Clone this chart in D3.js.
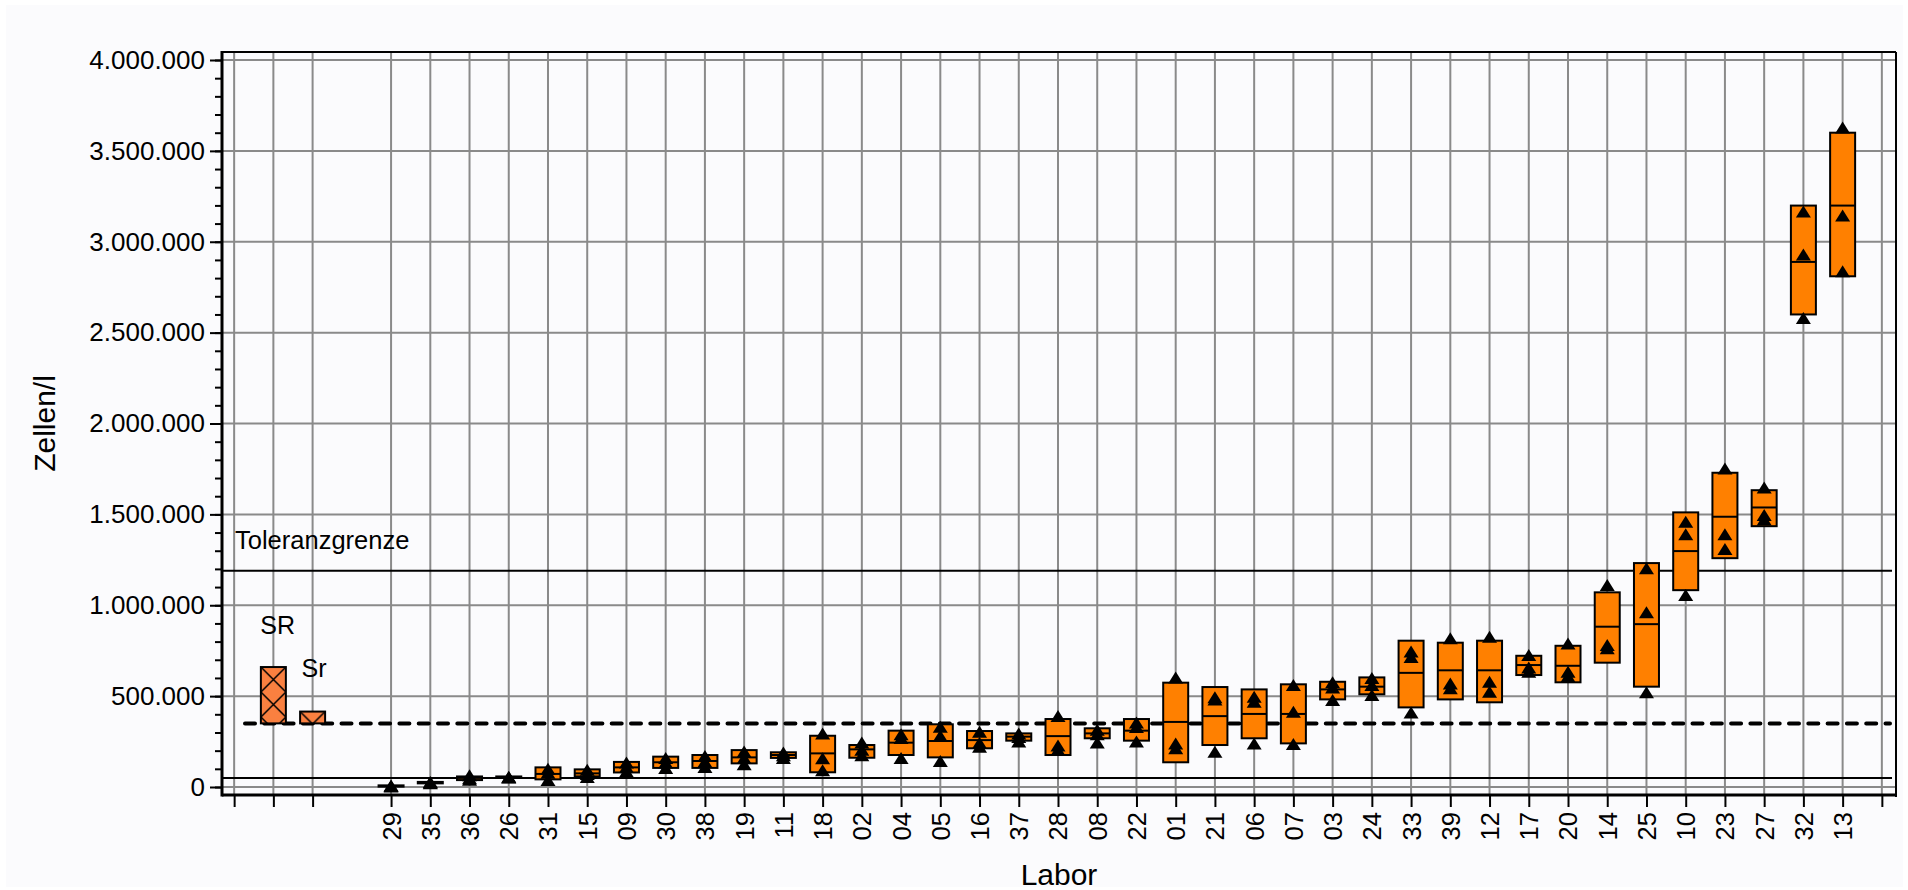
<!DOCTYPE html>
<html><head><meta charset="utf-8">
<script src="https://cdn.jsdelivr.net/npm/d3@7"></script>
<style>
body{margin:0;background:#fff;}
svg text{font-family:"Liberation Sans",Arial,sans-serif;fill:#000;}
</style></head><body>
<svg id="c" width="1908" height="890"></svg>
<script>
// ---------------- data ----------------
const labs = ["29","35","36","26","31","15","09","30","38","19","11","18","02","04","05","16","37","28","08","22","01","21","06","07","03","24","33","39","12","17","20","14","25","10","23","27","32","13"];
const values = [
  [3000,5000,8000],[20000,25000,28000],[40000,48000,65000],[52000,54000,56000],
  [38000,78000,100000],[55000,72000,95000],[85000,110000,135000],[105000,135000,160000],
  [110000,140000,170000],[125000,160000,195000],[160000,175000,190000],[92000,158000,295000],
  [175000,205000,245000],[160000,270000,290000],[143000,282000,332000],[222000,244000,304000],
  [250000,275000,295000],[205000,228000,390000],[245000,290000,315000],[250000,330000,355000],
  [213000,240000,603000],[194000,482000,494000],[240000,469000,497000],[236000,414000,561000],
  [478000,548000,577000],[506000,561000,600000],[410000,715000,745000],[543000,570000,818000],
  [524000,579000,827000],[634000,658000,726000],[610000,634000,790000],[763000,781000,1111000],
  [521000,962000,1203000],[1056000,1390000,1459000],[1309000,1391000,1753000],[1472000,1496000,1648000],
  [2580000,2930000,3166000],[2838000,3144000,3628000]
];
const boxLow  = [2000,20000,38000,50000,42000,58000,80000,105000,105000,130000,160000,81000,161000,176000,163000,213000,255000,176000,268000,255000,136000,231000,268000,240000,482000,510000,438000,482000,466000,616000,576000,684000,552000,1083000,1259000,1435000,2600000,2810000];
const boxHigh = [9000,28000,58000,58000,108000,97000,138000,167000,176000,203000,191000,282000,231000,310000,345000,308000,295000,374000,323000,374000,574000,550000,537000,565000,579000,603000,805000,794000,805000,722000,777000,1071000,1232000,1511000,1729000,1633000,3199000,3600000];
const means   = [5500,24000,50000,54000,72000,75000,108000,136000,143000,163000,176000,185000,207000,244000,253000,258000,277000,280000,295000,310000,358000,390000,402000,402000,537000,552000,628000,642000,642000,671000,667000,882000,896000,1298000,1487000,1538000,2889000,3199000];

const refBars = ["SR","Sr"];
const refBarTop = [660000, 415000];
const refBarBase = 350000;
const toleranceLimit = 1190000;
const lowerLimit = 50000;
const assignedValue = 350000;
const yTicks = [0,500000,1000000,1500000,2000000,2500000,3000000,3500000,4000000];
const yMinorTicks = d3.range(0, 4000001, 100000);
const slots = ["_a","SR","Sr","_gap", ...labs, "_z"];

// ---------------- layout ----------------
const L = 222, R = 1896, T = 52, B = 795;
const svg = d3.select("#c");
const x = d3.scalePoint().domain(slots).range([221, 1895]).padding(0.335);
const y = d3.scaleLinear().domain([0, 4000000]).range([787, 60]);
const de = d3.formatLocale({decimal: ",", thousands: ".", grouping: [3], currency: ["", "€"]});
const fmt = de.format(",d");
const boxW = 25;

svg.append("rect").attr("x",6).attr("y",5).attr("width",1897).attr("height",882).attr("fill","#fbfbfd");

const tickSlots = slots.filter(s => s !== "_gap");
// grid
const grid = svg.append("g").attr("stroke","#8a8a8a").attr("stroke-width",2);
grid.selectAll("line.v").data(tickSlots).join("line").attr("class","v")
  .attr("x1", d => x(d)).attr("x2", d => x(d)).attr("y1", T).attr("y2", B);
grid.selectAll("line.h").data(yTicks).join("line").attr("class","h")
  .attr("x1", L).attr("x2", R).attr("y1", d => y(d)).attr("y2", d => y(d));

// reference lines
svg.append("line").attr("x1",L).attr("x2",1892).attr("y1",y(toleranceLimit)).attr("y2",y(toleranceLimit))
  .attr("stroke","#000").attr("stroke-width",2);
svg.append("line").attr("x1",L).attr("x2",1892).attr("y1",y(lowerLimit)).attr("y2",y(lowerLimit))
  .attr("stroke","#000").attr("stroke-width",2);
svg.append("line").attr("x1",245).attr("x2",1890).attr("y1",y(assignedValue)).attr("y2",y(assignedValue))
  .attr("stroke","#000").attr("stroke-width",4).attr("stroke-dasharray","10 9.3").attr("stroke-linecap","round");

// hatch pattern for SR/Sr
const defs = svg.append("defs");
refBars.forEach((k,i) => {
  const p = defs.append("pattern").attr("id","hatch"+i).attr("patternUnits","userSpaceOnUse")
    .attr("x", x(k)-boxW/2).attr("y", y(refBarTop[i])).attr("width", boxW).attr("height", boxW);
  p.append("rect").attr("width",boxW).attr("height",boxW).attr("fill","#fa8040");
  p.append("path").attr("d",`M0,0L${boxW},${boxW}M${boxW},0L0,${boxW}`).attr("stroke","#000").attr("stroke-width",1.5);
});
svg.selectAll("rect.ref").data(refBars).join("rect").attr("class","ref")
  .attr("x", d => x(d)-boxW/2).attr("width", boxW)
  .attr("y", (d,i) => y(refBarTop[i])).attr("height", (d,i) => y(refBarBase)-y(refBarTop[i]))
  .attr("fill", (d,i) => `url(#hatch${i})`).attr("stroke","#000").attr("stroke-width",2);
svg.selectAll("text.ref").data(refBars).join("text").attr("class","ref")
  .attr("x", (d,i) => x(d) - (i===0?13:11)).attr("y", (d,i) => y(refBarTop[i]) - (i===0?33:35))
  .attr("font-size",25).text(d => d);

// boxes
const g = svg.append("g");
g.selectAll("rect.box").data(labs).join("rect").attr("class","box")
  .attr("x", d => x(d)-boxW/2).attr("width", boxW)
  .attr("y", (d,i) => y(boxHigh[i])).attr("height", (d,i) => y(boxLow[i]) - y(boxHigh[i]))
  .attr("fill","#ff8000").attr("stroke","#000").attr("stroke-width",2);
g.selectAll("line.mean").data(labs).join("line").attr("class","mean")
  .attr("x1", d => x(d)-boxW/2).attr("x2", d => x(d)+boxW/2)
  .attr("y1", (d,i) => y(means[i])).attr("y2", (d,i) => y(means[i]))
  .attr("stroke","#000").attr("stroke-width",2);
const pts = labs.flatMap((d,i) => values[i].map(v => ({lab:d, v})));
g.selectAll("path.pt").data(pts).join("path").attr("class","pt")
  .attr("d", p => { const cx = x(p.lab), cy = y(p.v); return `M${cx},${cy-6}L${cx+7.5},${cy+6}L${cx-7.5},${cy+6}Z`; })
  .attr("fill","#000");

// text
svg.append("text").attr("x", L+13).attr("y", y(toleranceLimit)-22).attr("font-size",25.5).text("Toleranzgrenze");

// axes
const ay = svg.append("g").attr("transform",`translate(${L},0)`)
  .call(d3.axisLeft(y).tickValues(yMinorTicks).tickSize(7).tickFormat(""));
ay.select(".domain").remove();
ay.selectAll("line").attr("stroke-width",2);
const ay2 = svg.append("g").attr("transform",`translate(${L},0)`)
  .call(d3.axisLeft(y).tickValues(yTicks).tickSize(12).tickPadding(5).tickFormat(fmt));
ay2.select(".domain").remove();
ay2.selectAll("line").attr("stroke-width",2);
ay2.selectAll("text").attr("font-size",26).attr("font-family","Liberation Sans, Arial, sans-serif").attr("fill","#000");

const ax = svg.append("g").attr("transform",`translate(0,${B})`)
  .call(d3.axisBottom(x).tickValues(tickSlots).tickSize(12).tickSizeOuter(0).tickFormat(d => labs.includes(d) ? d : ""));
ax.select(".domain").remove();
ax.selectAll("line").attr("stroke-width",2);
ax.selectAll("text").attr("transform","rotate(-90)").attr("x",-17).attr("y",0).attr("dy","0.35em")
  .style("text-anchor","end").attr("font-size",25.5).attr("font-family","Liberation Sans, Arial, sans-serif").attr("fill","#000");

// frame
svg.append("line").attr("x1",L).attr("x2",R).attr("y1",T).attr("y2",T).attr("stroke","#000").attr("stroke-width",2);
svg.append("line").attr("x1",R).attr("x2",R).attr("y1",T).attr("y2",B+2).attr("stroke","#000").attr("stroke-width",2);
svg.append("line").attr("x1",L).attr("x2",L).attr("y1",T-1).attr("y2",B+1.5).attr("stroke","#000").attr("stroke-width",3);
svg.append("line").attr("x1",L).attr("x2",R).attr("y1",B).attr("y2",B).attr("stroke","#000").attr("stroke-width",3);

// titles
svg.append("text").attr("transform",`translate(55,${(T+B)/2}) rotate(-90)`).attr("text-anchor","middle")
  .attr("font-size",30).text("Zellen/l");
svg.append("text").attr("x",(L+R)/2).attr("y",885).attr("text-anchor","middle").attr("font-size",30).text("Labor");
</script></body></html>
